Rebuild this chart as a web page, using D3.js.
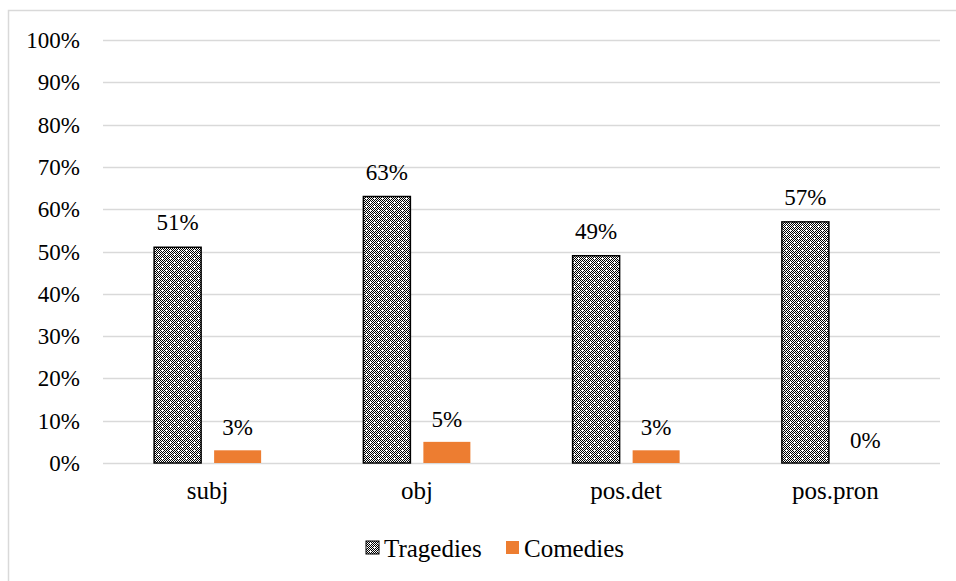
<!DOCTYPE html>
<html><head><meta charset="utf-8">
<script src="https://cdn.jsdelivr.net/npm/d3@7"></script>
<style>html,body{margin:0;padding:0;background:#fff;}svg{display:block;}</style>
</head><body>
<svg id="c" width="956" height="581"></svg>
<script>
const categories = ["subj", "obj", "pos.det", "pos.pron"];
const seriesNames = ["Tragedies", "Comedies"];
const tragedies = [0.51, 0.63, 0.49, 0.57];
const comedies = [0.03, 0.05, 0.03, 0.00];
const yTicks = [0, 0.1, 0.2, 0.3, 0.4, 0.5, 0.6, 0.7, 0.8, 0.9, 1.0];

const svg = d3.select("#c");
const FONT = "Liberation Serif";

// frame
svg.append("rect").attr("x", 8.5).attr("y", 10.5).attr("width", 960).attr("height", 600)
  .attr("fill", "#fff").attr("stroke", "#d9d9d9").attr("stroke-width", 1.5);

// pattern
const defs = svg.append("defs");
const pat = defs.append("pattern").attr("id", "conf").attr("patternUnits", "userSpaceOnUse")
  .attr("width", 8).attr("height", 8);
pat.append("rect").attr("width", 8).attr("height", 8).attr("fill", "#fff");
for (let i = 0; i < 8; i++) for (let j = 0; j < 8; j++) {
  if ((i + j) % 2 === 0) pat.append("rect").attr("x", i).attr("y", j).attr("width", 1).attr("height", 1).attr("fill", "#000");
}
[[2,2],[6,6]].forEach(([cx, cy]) => {
  pat.append("rect").attr("x", cx - 1).attr("y", cy).attr("width", 3).attr("height", 1).attr("fill", "#fff");
  pat.append("rect").attr("x", cx).attr("y", cy - 1).attr("width", 1).attr("height", 3).attr("fill", "#fff");
});

const x0 = d3.scaleBand().domain(categories).range([103, 940]);
const y = d3.scaleLinear().domain([0, 1]).range([463, 40]);

// gridlines
svg.append("g").selectAll("line").data(yTicks).join("line")
  .attr("x1", 103).attr("x2", 940)
  .attr("y1", d => Math.round(y(d)) + 0.5).attr("y2", d => Math.round(y(d)) + 0.5)
  .attr("stroke", "#d9d9d9").attr("stroke-width", 1.5);

// y axis labels
const yAxis = d3.axisLeft(y).tickValues(yTicks).tickFormat(d3.format(".0%")).tickSize(0).tickPadding(0);
const ya = svg.append("g").attr("transform", "translate(80,0)").call(yAxis)
  .attr("font-family", FONT).attr("font-size", 23);
ya.select(".domain").remove();
ya.selectAll("text").attr("font-family", FONT).attr("font-size", 23).attr("fill", "#000").attr("dy", "0.33em");

// x axis labels
const xAxis = d3.axisBottom(x0).tickSize(0).tickPadding(0);
const xa = svg.append("g").attr("transform", "translate(0,463)").call(xAxis)
  .attr("font-family", FONT).attr("font-size", 25);
xa.select(".domain").remove();
xa.selectAll("text").attr("font-family", FONT).attr("font-size", 25).attr("fill", "#000").attr("dy", "0").attr("y", 36);

const data = categories.map((c, i) => ({c, t: tragedies[i], m: comedies[i]}));
const bw = 47, off = 30;

svg.append("g").selectAll("rect").data(data).join("rect")
  .attr("x", d => x0(d.c) + x0.bandwidth() / 2 - off - bw / 2)
  .attr("y", d => y(d.t)).attr("width", bw).attr("height", d => y(0) - y(d.t))
  .attr("fill", "url(#conf)").attr("stroke", "#000").attr("stroke-width", 1.5);

svg.append("g").selectAll("rect").data(data).join("rect")
  .attr("x", d => x0(d.c) + x0.bandwidth() / 2 + off - bw / 2)
  .attr("y", d => y(d.m)).attr("width", bw).attr("height", d => y(0) - y(d.m))
  .attr("fill", "#ed7d31");

const fmt = d3.format(".0%");
svg.append("g").selectAll("text").data(data).join("text")
  .attr("x", d => x0(d.c) + x0.bandwidth() / 2 - off)
  .attr("y", d => y(d.t) - 17)
  .attr("text-anchor", "middle").attr("font-family", FONT).attr("font-size", 23)
  .text(d => fmt(d.t));
svg.append("g").selectAll("text").data(data).join("text")
  .attr("x", d => x0(d.c) + x0.bandwidth() / 2 + off)
  .attr("y", d => y(d.m) - 15)
  .attr("text-anchor", "middle").attr("font-family", FONT).attr("font-size", 23)
  .text(d => fmt(d.m));

// legend
const lg = svg.append("g").attr("transform", "translate(0,557)");
const items = [{n: seriesNames[0], fill: "url(#conf)", stroke: "#000", x: 366},
               {n: seriesNames[1], fill: "#ed7d31", stroke: "none", x: 506}];
items.forEach(it => {
  lg.append("rect").attr("x", it.x).attr("y", -16).attr("width", 13).attr("height", 13)
    .attr("fill", it.fill).attr("stroke", it.stroke).attr("stroke-width", 1);
  lg.append("text").attr("x", it.x + 18).attr("y", 0)
    .attr("font-family", FONT).attr("font-size", 25).text(it.n);
});
</script>
</body></html>
